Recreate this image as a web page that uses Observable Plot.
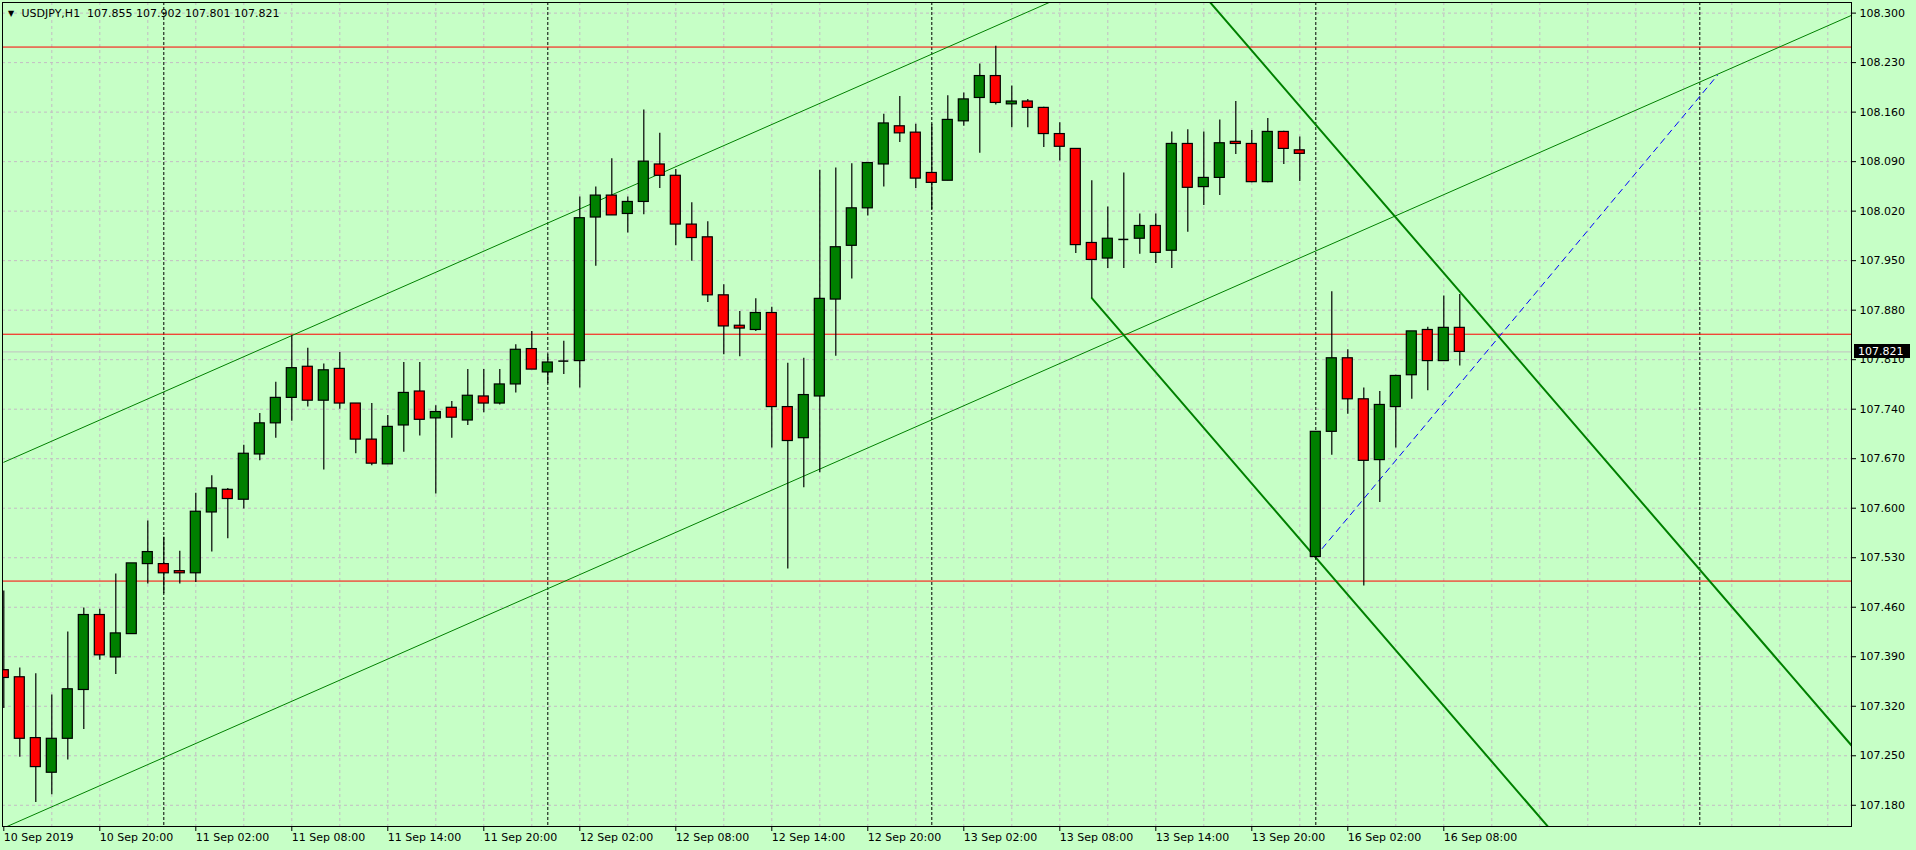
<!DOCTYPE html>
<html><head><meta charset="utf-8">
<script src="https://cdn.jsdelivr.net/npm/d3@7"></script>
<script src="https://cdn.jsdelivr.net/npm/@observablehq/plot@0.6"></script>
<style>
html,body{margin:0;padding:0;background:#c6ffc6;overflow:hidden;}
#chart svg{display:block;}
</style></head><body><div id="chart"></div>
<script>
const symbol = "USDJPY,H1";
// hourly bars, index 0 = 10 Sep 2019 14:00
const open  = [107.371,107.361,107.275,107.226,107.274,107.343,107.449,107.389,107.422,107.521,107.521,107.511,107.508,107.594,107.626,107.612,107.676,107.720,107.756,107.800,107.752,107.797,107.748,107.697,107.662,107.717,107.765,107.727,107.742,107.724,107.758,107.748,107.775,107.825,107.792,107.808,107.808,108.011,108.042,108.016,108.033,108.086,108.070,108.001,107.983,107.901,107.858,107.852,107.876,107.743,107.699,107.758,107.895,107.971,108.024,108.086,108.140,108.131,108.074,108.063,108.147,108.180,108.211,108.171,108.175,108.166,108.129,108.108,107.975,107.953,107.980,107.981,107.999,107.964,108.115,108.054,108.067,108.118,108.115,108.061,108.132,108.106,107.531,107.708,107.812,107.754,107.668,107.743,107.788,107.852,107.808,107.855];
const high  = [107.483,107.374,107.366,107.336,107.425,107.459,107.457,107.507,107.522,107.582,107.559,107.539,107.621,107.646,107.628,107.689,107.734,107.778,107.844,107.826,107.804,107.820,107.748,107.748,107.731,107.806,107.806,107.745,107.751,107.796,107.796,107.796,107.831,107.850,107.817,107.836,108.040,108.054,108.094,108.040,108.163,108.130,108.079,108.032,108.005,107.916,107.878,107.896,107.884,107.805,107.812,108.078,108.081,108.087,108.088,108.157,108.182,108.143,108.143,108.183,108.187,108.228,108.253,108.197,108.178,108.167,108.145,108.108,108.063,108.026,108.074,108.016,108.016,108.132,108.135,108.132,108.149,108.175,108.134,108.151,108.133,108.125,107.708,107.906,107.824,107.770,107.765,107.788,107.850,107.856,107.900,107.902];
const low   = [107.317,107.248,107.184,107.195,107.244,107.287,107.385,107.365,107.422,107.493,107.479,107.493,107.495,107.538,107.557,107.599,107.667,107.699,107.723,107.743,107.654,107.740,107.677,107.660,107.662,107.679,107.702,107.620,107.699,107.717,107.735,107.746,107.763,107.796,107.776,107.789,107.770,107.942,108.014,107.989,108.015,108.052,107.971,107.949,107.891,107.817,107.814,107.850,107.685,107.514,107.629,107.650,107.815,107.924,108.013,108.054,108.117,108.052,108.022,108.063,108.140,108.102,108.170,108.138,108.138,108.110,108.091,107.960,107.897,107.939,107.939,107.959,107.946,107.939,107.990,108.028,108.042,108.100,108.060,108.060,108.086,108.062,107.528,107.675,107.733,107.490,107.608,107.685,107.754,107.766,107.808,107.801];
const close = [107.360,107.274,107.234,107.274,107.344,107.449,107.392,107.423,107.522,107.538,107.508,107.508,107.595,107.628,107.613,107.677,107.720,107.756,107.798,107.752,107.795,107.748,107.697,107.663,107.715,107.763,107.725,107.736,107.728,107.759,107.748,107.775,107.824,107.796,107.806,107.808,108.010,108.042,108.014,108.033,108.090,108.070,108.001,107.982,107.901,107.857,107.854,107.876,107.743,107.695,107.760,107.896,107.969,108.024,108.088,108.144,108.130,108.066,108.060,108.149,108.178,108.211,108.173,108.175,108.166,108.129,108.111,107.972,107.951,107.981,107.980,107.999,107.961,108.115,108.053,108.067,108.116,108.115,108.061,108.132,108.108,108.101,107.708,107.812,107.754,107.667,107.746,107.787,107.850,107.808,107.855,107.821];

const tickBars   = [0,6,12,18,24,30,36,42,48,54,60,66,72,78,84,90];
const tickLabels = ["10 Sep 2019","10 Sep 20:00","11 Sep 02:00","11 Sep 08:00","11 Sep 14:00","11 Sep 20:00","12 Sep 02:00","12 Sep 08:00","12 Sep 14:00","12 Sep 20:00","13 Sep 02:00","13 Sep 08:00","13 Sep 14:00","13 Sep 20:00","16 Sep 02:00","16 Sep 08:00"];
const priceTicks = [107.180,107.250,107.320,107.390,107.460,107.530,107.600,107.670,107.740,107.810,107.880,107.950,108.020,108.090,108.160,108.230,108.300];
const gridBars = [3,6,9,12,15,18,21,24,27,30,33,36,39,42,45,48,51,54,57,60,63,66,69,72,75,78,81,84,87,90,93,96,99,102,105,108,111,114];
const daySeparators = [10,34,58,82,106];
const levels = [108.252,107.846,107.497];

// drawn objects: anchor points (bar index, price)
const channelUpper = [{i:0,p:107.665},{i:116,p:108.819}];
const channelLower = [{i:0,p:107.148},{i:116,p:108.302}];
const downLineA    = [{i:68,p:107.897},{i:116,p:106.639}];
const downLineB    = [{i:68,p:108.509},{i:116,p:107.251}];
const blueLine     = [{i:82.4,p:107.543},{i:107.1,p:108.212}];

const bg = "#c6ffc6";
const gridColor = "#c4bcc4";
const last = open.length - 1;
const bid = close[last];
const header = `${symbol}  ${open[last].toFixed(3)} ${high[last].toFixed(3)} ${low[last].toFixed(3)} ${close[last].toFixed(3)}`;

const candles = open.map((o, i) => ({i, o, h: high[i], l: low[i], c: close[i]}));
const bodies = candles.filter(d => d.o !== d.c);
const dojis = candles.filter(d => d.o === d.c);
const labelByBar = new Map(tickBars.map((b, k) => [b, tickLabels[k]]));
const half = 0.3125;

const W = 1916, H = 850, mL = 2, mR = 65, mT = 2, mB = 24;
const xDomain = [-0.08125, -0.08125 + (W - mR - mL) / 16];

const bidBox = (index, scales, values, dimensions) => {
  const y = Math.round(scales.y(bid));
  const g = d3.create("svg:g");
  const x0 = dimensions.width - dimensions.marginRight + 3;
  g.append("rect").attr("x", x0).attr("y", y - 7).attr("width", 56).attr("height", 14).attr("fill", "black");
  g.append("text").attr("x", x0 + 4).attr("y", y).attr("dy", "0.35em")
    .attr("text-anchor", "start")
    .attr("fill", "white").attr("font-size", 11).attr("font-family", "DejaVu Sans")
    .text(bid.toFixed(3));
  return g.node();
};

const chart = Plot.plot({
  width: W, height: H,
  marginLeft: mL, marginRight: mR, marginTop: mT, marginBottom: mB,
  style: {background: bg, fontFamily: "DejaVu Sans", fontSize: "11px", color: "black"},
  x: {type: "linear", domain: xDomain, axis: null},
  y: {type: "linear", domain: [107.150, 108.315], axis: null},
  marks: [
    Plot.gridY(priceTicks, {stroke: gridColor, strokeOpacity: 1, strokeDasharray: "3,3"}),
    Plot.gridX(gridBars, {stroke: gridColor, strokeOpacity: 1, strokeDasharray: "3,3"}),
    Plot.ruleX(daySeparators, {stroke: "black", strokeDasharray: "3,2"}),
    Plot.ruleY([bid], {stroke: "#c0c0c0"}),
    Plot.ruleY(levels, {stroke: "#ff0000"}),
    Plot.line(channelUpper, {x: "i", y: "p", stroke: "#008000", strokeWidth: 1, clip: true}),
    Plot.line(channelLower, {x: "i", y: "p", stroke: "#008000", strokeWidth: 1, clip: true}),
    Plot.line(downLineA, {x: "i", y: "p", stroke: "#008000", strokeWidth: 2, clip: true}),
    Plot.line(downLineB, {x: "i", y: "p", stroke: "#008000", strokeWidth: 2, clip: true}),
    Plot.line(blueLine, {x: "i", y: "p", stroke: "#0000ff", strokeWidth: 1, strokeDasharray: "6,5", clip: true}),
    Plot.ruleX(candles, {x: "i", y1: "l", y2: "h", stroke: "black", strokeWidth: 1.2, clip: true}),
    Plot.rect(bodies, {x1: d => d.i - half, x2: d => d.i + half, y1: "o", y2: "c",
      fill: d => d.c > d.o ? "#008000" : "#ff0000", stroke: "black", strokeWidth: 1.2, clip: true}),
    Plot.ruleY(dojis, {y: "o", x1: d => d.i - half, x2: d => d.i + half, stroke: "black", strokeWidth: 1.5, clip: true}),
    Plot.frame({stroke: "black"}),
    Plot.axisY(priceTicks, {anchor: "right", tickSize: 4, tickPadding: 4, tickFormat: d3.format(".3f"), fontSize: 11, label: null}),
    Plot.axisX(tickBars, {anchor: "bottom", tickSize: 5, tickPadding: 2, tickFormat: d => labelByBar.get(d), textAnchor: "start", dx: 0, fontSize: 11, label: null}),
    Plot.text(["▼"], {frameAnchor: "top-left", dx: 8.5, dy: 10.5, fontSize: 8, textAnchor: "middle", lineAnchor: "middle", fill: "black"}),
    Plot.text([header], {frameAnchor: "top-left", dx: 19, dy: 10.7, fontSize: 11, textAnchor: "start", lineAnchor: "middle", fill: "black"}),
    bidBox
  ]
});
document.getElementById("chart").appendChild(chart);
</script></body></html>
